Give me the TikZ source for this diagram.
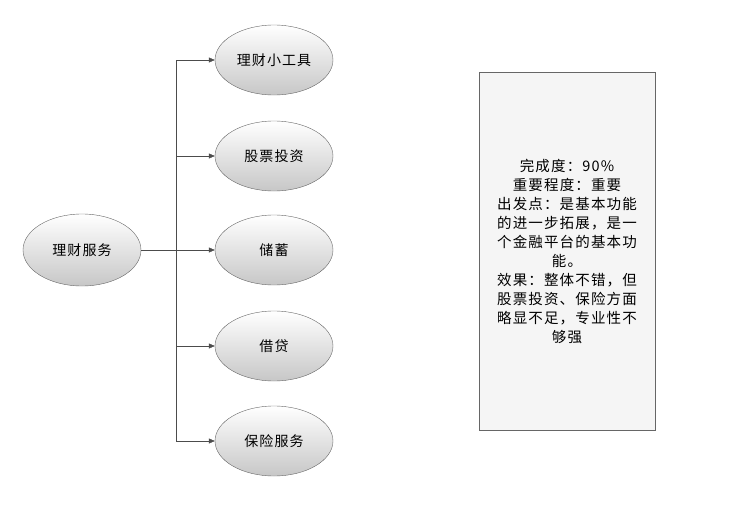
\documentclass[tikz,border=0pt]{standalone}
\usepackage{fontspec}
\newfontfamily\cjk[LetterSpace=8]{Noto Sans CJK SC}
\usetikzlibrary{shapes.geometric}
\usetikzlibrary{arrows.meta}
\tikzset{
  item/.style={ellipse, draw=black!60, top color=white, bottom color=black!22, minimum width=118pt, minimum height=70pt, font=\cjk\fontsize{14}{16}\selectfont},
  link/.style={draw=black!70, -{Triangle[length=6pt,width=5pt]}},
  note/.style={draw=black!60, fill=black!4, minimum width=176pt, minimum height=358pt, align=center, font=\cjk\fontsize{14.5}{19}\selectfont}
}
\begin{document}
\begin{tikzpicture}[x=1pt,y=1pt]
	\useasboundingbox (0,0) rectangle (737,-522);
	\node[item, minimum height=72pt] (root) at (82,-250) {理财服务};
	\node[item] (A) at (274,-60) {理财小工具};
	\node[item] (B) at (274,-156) {股票投资};
	\node[item] (C) at (274,-250) {储蓄};
	\node[item] (D) at (274,-346) {借贷};
	\node[item] (E) at (274,-441) {保险服务};
	\coordinate (J) at (176,-250);
	\draw[draw=black!70] (root) -- (J);
	\foreach \n in {A,B,C,D,E}
		\draw[link] (J) |- (\n);
	\node[note] (N) at (567,-251) {完成度：90\%\\重要程度：重要\\出发点：是基本功能\\的进一步拓展，是一\\个金融平台的基本功\\能。\\效果：整体不错，但\\股票投资、保险方面\\略显不足，专业性不\\够强};
\end{tikzpicture}
\end{document}
